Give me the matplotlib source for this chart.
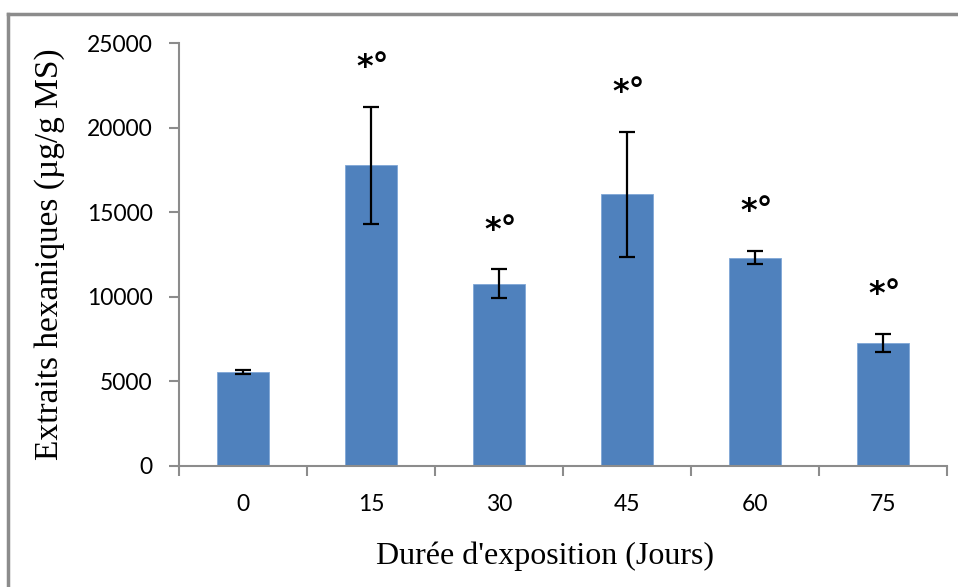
import matplotlib
matplotlib.use("Agg")
import matplotlib.pyplot as plt
from matplotlib.lines import Line2D
import numpy as np

# durée d'exposition (jours) et extraits hexaniques (µg/g MS)
days = ["0", "15", "30", "45", "60", "75"]
means = [5550, 17770, 10770, 16050, 12320, 7280]
errors = [130, 3470, 850, 3700, 400, 540]
marks = ["", "*°", "*°", "*°", "*°", "*°"]

bar_color = "#4f81bd"
axis_gray = "#8c8c8c"

fig = plt.figure(figsize=(9.58, 5.87), dpi=100)
ax = fig.add_axes([179 / 958, 1 - 466 / 587, (947 - 179) / 958, (466 - 43) / 587])

x = np.arange(len(days))
ax.bar(x, means, width=0.4, color=bar_color, edgecolor="#7fa6d6", linewidth=0.6, zorder=2)
ax.errorbar(x, means, yerr=errors, fmt="none", ecolor="black", elinewidth=1.6,
            capsize=6, capthick=1.6, zorder=3)

for xi, m, e, t in zip(x, means, errors, marks):
    if t:
        ax.annotate(t, (xi, m + e), xytext=(1, 17), textcoords="offset points",
                    ha="center", va="bottom", fontsize=23, fontweight="bold",
                    family="DejaVu Sans")

ax.set_xlim(-0.5, len(days) - 0.5)
ax.set_ylim(0, 25000)
ax.set_yticks(np.arange(0, 25001, 5000))
ax.set_yticklabels([str(v) for v in range(0, 25001, 5000)], family="Lato", fontsize=16.5)

# ticks between the categories, labels centred under the bars
ax.set_xticks(np.arange(-0.5, len(days), 1.0))
ax.set_xticklabels([])
ax.set_xticks(x, minor=True)
ax.set_xticklabels(days, minor=True, family="Lato", fontsize=16.5)
ax.tick_params(axis="x", which="minor", length=0, pad=20)
ax.tick_params(axis="x", which="major", length=7, color=axis_gray, width=1.5)
ax.tick_params(axis="y", length=7, color=axis_gray, width=1.5, pad=12)

for s in ["top", "right"]:
    ax.spines[s].set_visible(False)
for s in ["left", "bottom"]:
    ax.spines[s].set_color(axis_gray)
    ax.spines[s].set_linewidth(1.5)

ax.set_xlabel("Durée d'exposition (Jours)", family="Liberation Serif", fontsize=23)
ax.xaxis.set_label_coords(0.4766, -0.178)
ax.set_ylabel("Extraits hexaniques (µg/g MS)", family="Liberation Serif", fontsize=24, labelpad=16)

# chart area border (top and left are the only parts inside the picture)
fig.add_artist(Line2D([8 / 958, 1], [1 - 14 / 587] * 2, color=axis_gray, lw=2.5,
                      transform=fig.transFigure))
fig.add_artist(Line2D([8 / 958] * 2, [0, 1 - 14 / 587], color=axis_gray, lw=2.5,
                      transform=fig.transFigure))

fig.savefig("out.png", dpi=100)
